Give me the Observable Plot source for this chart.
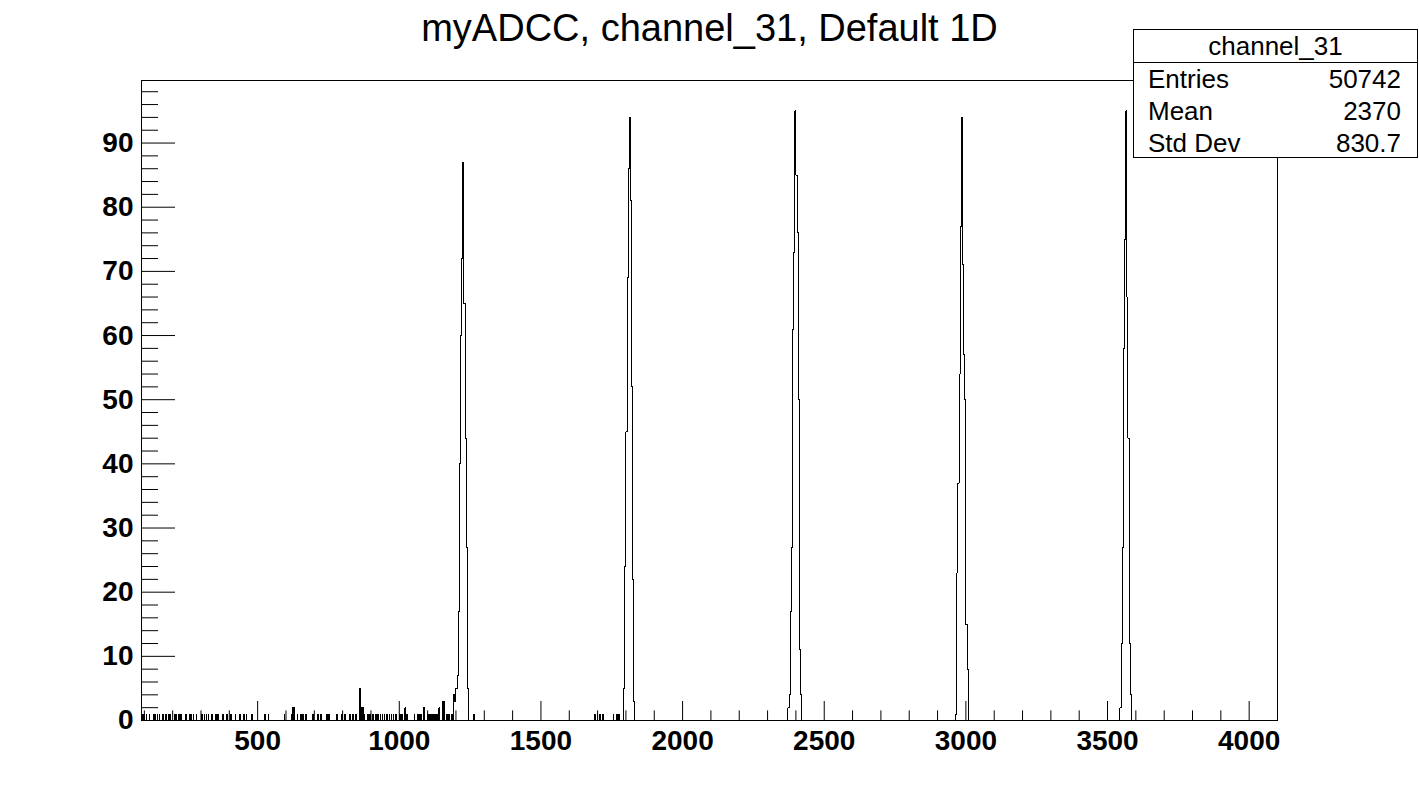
<!DOCTYPE html>
<html>
<head>
<meta charset="utf-8">
<script src="https://cdn.jsdelivr.net/npm/d3@7"></script>
<script src="https://cdn.jsdelivr.net/npm/@observablehq/plot@0.6"></script>
<style>
  html, body { margin: 0; padding: 0; background: #fff; }
  body { font-family: "Liberation Sans", Arial, Helvetica, sans-serif; color: #000; }
  #wrap { position: relative; width: 1419px; height: 802px; overflow: hidden; }
  #title { position: absolute; left: 0; top: 9px; width: 1419px; text-align: center;
           font-size: 38px; line-height: 38px; white-space: nowrap; }
  #stats { position: absolute; left: 1133px; top: 29px; width: 285px; height: 129px;
           box-sizing: border-box; border: 1px solid #000; background: #fff; font-size: 26px; }
  #stats .hdr { position: absolute; left: 0; top: 0; width: 100%; height: 32px; line-height: 32px;
                text-align: center; border-bottom: 1px solid #000; }
  #stats .row { position: absolute; left: 0; right: 0; height: 28px; line-height: 28px;
                display: flex; justify-content: space-between; padding: 0 16px 0 14px; }
  #chart { position: absolute; left: 0; top: 0; }
</style>
</head>
<body>
<div id="wrap">
  <div id="chart"></div>
  <div id="title"></div>
  <div id="stats"></div>
</div>
<script>
// ---- Data (channel = bin low edge, count = entries) ----
const titleText = "myADCC, channel_31, Default 1D";
const histName = "channel_31";
const statsLabels = ["Entries", "Mean", "Std Dev"];
const statsValues = ["50742", "2370", "830.7"];

// sparse low-level background bins (1 channel wide)
const bgChannel = [92,96,100,107,119,134,138,145,152,163,168,176,186,190,205,209,213,222,226,230,
  244,248,260,264,272,283,301,305,313,320,325,337,341,350,354,360,376,380,390,394,404,408,421,437,
  451,459,478,482,525,539,594,620,624,628,641,650,654,660,670,695,713,723,744,751,780,797,808,825,
  836,847,861,864,868,872,876,886,890,896,904,908,917,924,932,940,948,956,964,972,980,988,1002,1006,
  1010,1020,1027,1052,1064,1068,1072,1076,1087,1100,1104,1108,1112,1116,1120,1124,1128,1132,1136,
  1140,1152,1156,1160,1168,1172,1176,1186,1263,1690,1700,1708,1719,1755,1766,1770,1774,1778];
const bgCount = [1,1,1,1,1,1,1,1,1,1,1,1,1,1,1,1,1,1,1,1,
  1,1,1,1,1,1,1,1,1,1,1,1,1,1,1,1,1,1,1,1,1,1,1,1,
  1,1,1,1,1,1,1,1,2,2,1,1,1,1,1,1,1,1,1,1,1,1,1,1,
  1,1,5,2,2,2,1,1,1,1,1,1,1,1,1,1,1,1,1,1,1,1,1,1,
  1,2,1,1,1,1,1,1,2,1,1,1,1,1,1,1,1,1,1,
  2,3,3,3,1,1,1,1,1,1,1,1,1,1,1,1,1,1];

// the five peaks (4 channels per bin)
const peakChannel = [
  1192,1196,1200,1204,1208,1212,1216,1220,1224,1228,1232,1236,1240,
  1792,1796,1800,1804,1808,1812,1816,1820,1824,1828,
  2372,2376,2380,2384,2388,2392,2396,2400,2404,2408,2412,2416,
  2964,2968,2972,2976,2980,2984,2988,2992,2996,3000,3004,
  3544,3548,3552,3556,3560,3564,3568,3572,3576,3580];
const peakCount = [
  4,3,5,7,17,40,60,72,87,65,44,27,5,
  5,24,45,69,86,94,81,52,22,3,
  2,4,17,27,61,73,95,85,76,50,11,4,
  1,23,37,54,77,94,71,57,50,15,8,
  2,12,27,58,75,95,66,44,12,4];
const bgWidth = 1, peakWidth = 4;

// axis ticks
const xMajor = [500,1000,1500,2000,2500,3000,3500,4000];
const xMinor = d3.range(100, 4001, 100).filter(v => v % 500 !== 0);
const yMajor = [0,10,20,30,40,50,60,70,80,90];
const yMinor = d3.range(2, 99, 2).filter(v => v % 10 !== 0);
const xDomain = [90, 4100];
const yDomain = [0, 99.75];

// ---- build histogram outline (ROOT-style step line) ----
const bins = [];
bgChannel.forEach((c, i) => bins.push({lo: c, hi: c + bgWidth, n: bgCount[i]}));
peakChannel.forEach((c, i) => bins.push({lo: c, hi: c + peakWidth, n: peakCount[i]}));
bins.sort((a, b) => a.lo - b.lo);
const pts = [];
let prevHi = null;
for (const b of bins) {
  if (prevHi !== null && Math.abs(b.lo - prevHi) < 1e-9) {
    pts.push({x: b.lo, y: b.n});
  } else {
    if (prevHi !== null) pts.push({x: prevHi, y: 0});
    pts.push({x: b.lo, y: 0});
    pts.push({x: b.lo, y: b.n});
  }
  pts.push({x: b.hi, y: b.n});
  prevHi = b.hi;
}
pts.push({x: prevHi, y: 0});

const W = 1419, H = 802, mL = 141, mR = 142, mT = 80, mB = 82;
const frameW = W - mL - mR, frameH = H - mT - mB;
const font = "Liberation Sans, Arial, Helvetica, sans-serif";

const chart = Plot.plot({
  width: W, height: H,
  marginLeft: mL, marginRight: mR, marginTop: mT, marginBottom: mB,
  style: {background: "white", color: "black", fontFamily: font},
  x: {domain: xDomain},
  y: {domain: yDomain},
  marks: [
    Plot.line(pts, {x: "x", y: "y", stroke: "black", strokeWidth: 1, shapeRendering: "crispEdges"}),
    Plot.tickX(xMajor, {x: d => d, insetTop: frameH - 19, stroke: "black"}),
    Plot.tickX(xMinor, {x: d => d, insetTop: frameH - 9.6, stroke: "black"}),
    Plot.tickY(yMajor, {y: d => d, insetRight: frameW - 34, stroke: "black"}),
    Plot.tickY(yMinor, {y: d => d, insetRight: frameW - 17, stroke: "black"}),
    Plot.axisX(xMajor, {tickSize: 0, tickPadding: 10, fontSize: 28, fontWeight: "bold",
      fontFamily: font, tickFormat: d => String(d), label: null, fill: "black"}),
    Plot.axisY(yMajor, {tickSize: 0, tickPadding: 8, fontSize: 28, fontWeight: "bold",
      fontFamily: font, tickFormat: d => String(d), label: null, fill: "black"}),
    Plot.frame({stroke: "black", strokeWidth: 1})
  ]
});
document.getElementById("chart").appendChild(chart);

document.getElementById("title").textContent = titleText;
const stats = document.getElementById("stats");
const hdr = document.createElement("div");
hdr.className = "hdr"; hdr.textContent = histName;
stats.appendChild(hdr);
const rowTops = [35, 67, 99];
statsLabels.forEach((lab, i) => {
  const r = document.createElement("div");
  r.className = "row";
  r.style.top = rowTops[i] + "px";
  const a = document.createElement("span"); a.textContent = lab;
  const b = document.createElement("span"); b.textContent = statsValues[i];
  r.appendChild(a); r.appendChild(b);
  stats.appendChild(r);
});
</script>
</body>
</html>
